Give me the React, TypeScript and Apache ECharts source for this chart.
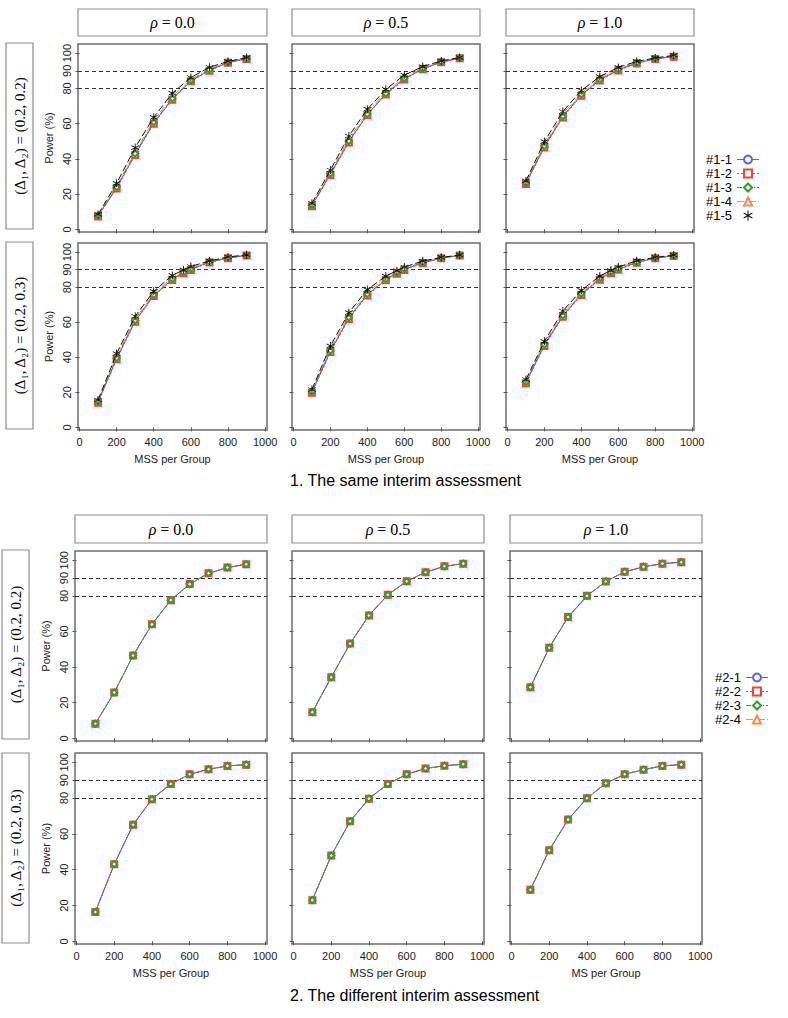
import React, { useEffect, useRef } from 'react';
import * as echarts from 'echarts';

// ---------- data ----------
const XS9 = [100, 200, 300, 400, 500, 600, 700, 800, 900];
const XS10 = [100, 200, 300, 400, 500, 560, 600, 700, 800, 900];
const X_TICKS = [0, 200, 400, 600, 800, 1000];
const Y_TICKS = [0, 20, 40, 60, 80, 90, 100];
const REF_LINES = [80, 90];

const COL_LABELS = ['0.0', '0.5', '1.0'];
const ROW_LABELS = ['(0.2, 0.2)', '(0.2, 0.3)'];
const TITLES = ['1. The same interim assessment', '2. The different interim assessment'];
const X_NAMES_P1 = ['MSS per Group', 'MSS per Group', 'MSS per Group'];
const X_NAMES_P2 = ['MSS per Group', 'MSS per Group', 'MS per Group'];
const NAMES_P1 = ['#1-1', '#1-2', '#1-3', '#1-4', '#1-5'];
const NAMES_P2 = ['#2-1', '#2-2', '#2-3', '#2-4'];

// Panel 1, row 1 (Δ = (0.2,0.2))
const p1r1c1_1 = [7.6, 23.6, 42.6, 60.4, 74.0, 84.2, 90.3, 94.7, 96.8];
const p1r1c1_2 = [7.3, 23.2, 42.2, 60.0, 73.6, 84.0, 90.0, 94.5, 96.7];
const p1r1c1_3 = [7.7, 23.9, 43.0, 60.8, 74.3, 84.5, 90.5, 94.8, 96.9];
const p1r1c1_4 = [8.0, 24.6, 44.0, 61.8, 75.4, 85.2, 91.0, 95.0, 97.1];
const p1r1c1_5 = [8.5, 26.1, 46.4, 63.6, 77.3, 86.2, 92.0, 95.3, 97.5];

const p1r1c2_1 = [13.4, 31.4, 49.8, 65.2, 76.9, 85.4, 91.1, 94.9, 97.2];
const p1r1c2_2 = [13.1, 30.9, 49.3, 64.8, 76.5, 85.1, 90.9, 94.8, 97.1];
const p1r1c2_3 = [13.5, 31.6, 50.0, 65.4, 77.1, 85.6, 91.2, 95.0, 97.2];
const p1r1c2_4 = [13.9, 32.4, 51.2, 66.5, 78.0, 86.3, 91.7, 95.2, 97.3];
const p1r1c2_5 = [14.8, 33.7, 53.0, 68.2, 79.5, 87.5, 92.4, 95.6, 97.5];

const p1r1c3_1 = [26.1, 47.0, 64.0, 76.3, 84.8, 90.5, 94.3, 96.8, 98.1];
const p1r1c3_2 = [25.7, 46.5, 63.5, 75.9, 84.5, 90.2, 94.1, 96.7, 98.0];
const p1r1c3_3 = [26.2, 47.2, 64.2, 76.5, 85.0, 90.6, 94.4, 96.9, 98.2];
const p1r1c3_4 = [26.7, 48.2, 65.3, 77.4, 85.7, 91.1, 94.7, 97.0, 98.3];
const p1r1c3_5 = [27.5, 49.8, 66.9, 78.8, 86.7, 91.9, 95.3, 97.3, 98.7];

// Panel 1, row 2 (Δ = (0.2,0.3))
const p1r2c1_1 = [14.4, 39.3, 60.7, 75.3, 84.4, 88.2, 90.1, 94.3, 96.6, 98.1];
const p1r2c1_2 = [14.0, 38.8, 60.2, 74.9, 84.1, 87.9, 89.8, 94.1, 96.5, 98.0];
const p1r2c1_3 = [14.6, 39.6, 61.0, 75.6, 84.7, 88.4, 90.3, 94.4, 96.7, 98.1];
const p1r2c1_4 = [15.0, 40.6, 62.0, 76.4, 85.5, 89.0, 90.9, 94.6, 96.9, 98.3];
const p1r2c1_5 = [15.6, 42.1, 63.4, 77.6, 86.7, 89.9, 91.8, 95.0, 97.2, 98.5];

const p1r2c2_1 = [20.1, 43.5, 62.4, 75.7, 84.3, 88.0, 90.1, 93.9, 96.6, 98.1];
const p1r2c2_2 = [19.7, 43.0, 61.9, 75.3, 84.0, 87.7, 89.8, 93.7, 96.5, 98.0];
const p1r2c2_3 = [20.3, 43.8, 62.7, 76.0, 84.6, 88.2, 90.3, 94.0, 96.7, 98.1];
const p1r2c2_4 = [20.8, 45.0, 63.9, 77.1, 85.3, 88.7, 90.8, 94.4, 96.8, 98.2];
const p1r2c2_5 = [21.6, 46.5, 65.5, 78.6, 86.3, 89.4, 91.5, 94.9, 97.0, 98.3];

const p1r2c3_1 = [25.6, 46.9, 63.6, 75.9, 84.6, 88.2, 90.3, 94.1, 96.6, 97.9];
const p1r2c3_2 = [25.2, 46.4, 63.1, 75.5, 84.3, 87.9, 90.0, 93.9, 96.5, 97.8];
const p1r2c3_3 = [25.8, 47.2, 63.9, 76.2, 84.8, 88.4, 90.5, 94.2, 96.7, 98.0];
const p1r2c3_4 = [26.4, 48.0, 65.0, 77.0, 85.4, 88.9, 90.9, 94.6, 96.8, 98.1];
const p1r2c3_5 = [27.3, 49.1, 66.4, 78.2, 86.3, 89.6, 91.5, 95.1, 97.0, 98.3];

// Panel 2 (all four designs coincide)
const p2r1c1 = [8.2, 25.7, 46.5, 64.0, 77.6, 86.6, 92.7, 95.9, 97.8];
const p2r1c2 = [14.7, 34.3, 53.2, 69.0, 80.6, 88.2, 93.3, 96.6, 98.1];
const p2r1c3 = [28.7, 50.9, 68.1, 80.0, 88.1, 93.5, 96.3, 98.1, 98.9];
const p2r2c1 = [16.4, 43.1, 65.1, 79.4, 87.9, 93.3, 96.1, 98.0, 98.7];
const p2r2c2 = [23.0, 47.9, 67.1, 79.7, 87.9, 93.3, 96.5, 98.1, 98.9];
const p2r2c3 = [28.8, 50.9, 68.0, 79.9, 88.3, 93.3, 95.9, 98.0, 98.7];

const P1_DATA = [
  [p1r1c1_1, p1r1c1_2, p1r1c1_3, p1r1c1_4, p1r1c1_5],
  [p1r1c2_1, p1r1c2_2, p1r1c2_3, p1r1c2_4, p1r1c2_5],
  [p1r1c3_1, p1r1c3_2, p1r1c3_3, p1r1c3_4, p1r1c3_5],
  [p1r2c1_1, p1r2c1_2, p1r2c1_3, p1r2c1_4, p1r2c1_5],
  [p1r2c2_1, p1r2c2_2, p1r2c2_3, p1r2c2_4, p1r2c2_5],
  [p1r2c3_1, p1r2c3_2, p1r2c3_3, p1r2c3_4, p1r2c3_5],
];
const P2_DATA = [p2r1c1, p2r1c2, p2r1c3, p2r2c1, p2r2c2, p2r2c3];

// ---------- styles / layout ----------
const SANS = "'Liberation Sans', Arial, Helvetica, sans-serif";
const SERIF = "'Liberation Serif', 'DejaVu Serif', serif";
const ASTERISK =
  'path://M4.5 0H5.5V10H4.5Z M0.92 2.07L9.58 7.07L9.08 7.93L0.42 2.93Z M0.42 7.07L9.08 2.07L9.58 2.93L0.92 7.93Z';

// z: drawing order within a panel (red squares and green diamonds on top, as in the original)
const STYLES = [
  { color: '#5c5cff', dash: 'solid', symbol: 'emptyCircle', size: 5, z: 4 },
  { color: '#ff3b3b', dash: [2, 2], symbol: 'emptyRect', size: 6, z: 5 },
  { color: '#2e9e2e', dash: [5, 2, 1, 2], symbol: 'emptyDiamond', size: 6, z: 6 },
  { color: '#ff8a45', dash: [7, 2, 1, 2], symbol: 'emptyTriangle', size: 5, z: 3 },
  { color: '#111111', dash: [7, 3], symbol: ASTERISK, size: 8, z: 7 },
];

const X_MIN = -8, X_MAX = 1010, Y_MIN = -1.5, Y_MAX = 105.2;

const PANELS = [
  {
    colX: [[78, 267], [292, 480], [506, 694]],
    rowY: [[44, 232], [243, 430]],
    stripY: [9, 36],
    rowStripX: [6, 33],
    rowStripY: [[43, 229], [242, 429]],
    titleY: 480,
    legend: { left: 706, top: 153 },
  },
  {
    colX: [[75, 267], [292, 484], [510, 702]],
    rowY: [[551, 741], [753, 944]],
    stripY: [515, 543],
    rowStripX: [2, 29],
    rowStripY: [[550, 739], [753, 943]],
    titleY: 995,
    legend: { left: 715, top: 671 },
  },
];

function buildOption() {
  const grid: any[] = [];
  const xAxis: any[] = [];
  const yAxis: any[] = [];
  const series: any[] = [];
  const graphic: any[] = [];
  let g = 0;

  PANELS.forEach((P, pi) => {
    P.colX.forEach(([x0, x1], c) => {
      graphic.push({
        type: 'rect',
        shape: { x: x0, y: P.stripY[0], width: x1 - x0, height: P.stripY[1] - P.stripY[0] },
        style: { fill: '#fff', stroke: '#8f8f8f', lineWidth: 1.2 },
      });
      graphic.push({
        type: 'text',
        x: (x0 + x1) / 2,
        y: (P.stripY[0] + P.stripY[1]) / 2,
        style: {
          text: '{i|ρ}{n| = ' + COL_LABELS[c] + '}',
          rich: {
            i: { fontStyle: 'italic', fontSize: 16, fontFamily: SERIF, fill: '#000' },
            n: { fontSize: 16, fontFamily: SERIF, fill: '#000' },
          },
          align: 'center',
          verticalAlign: 'middle',
          textAlign: 'center',
          textVerticalAlign: 'middle',
        },
      });
    });
    P.rowStripY.forEach(([y0, y1], r) => {
      const [x0, x1] = P.rowStripX;
      graphic.push({
        type: 'rect',
        shape: { x: x0, y: y0, width: x1 - x0, height: y1 - y0 },
        style: { fill: '#fff', stroke: '#8f8f8f', lineWidth: 1.2 },
      });
      graphic.push({
        type: 'text',
        x: (x0 + x1) / 2,
        y: (y0 + y1) / 2,
        rotation: Math.PI / 2,
        style: {
          text: '(Δ₁, Δ₂) = ' + ROW_LABELS[r],
          font: '15px ' + SERIF,
          fill: '#000',
          align: 'center',
          verticalAlign: 'middle',
          textAlign: 'center',
          textVerticalAlign: 'middle',
        },
      });
    });
    graphic.push({
      type: 'text',
      x: 290,
      y: P.titleY,
      style: {
        text: TITLES[pi],
        font: '16px ' + SANS,
        fill: '#000',
        align: 'left',
        verticalAlign: 'middle',
        textAlign: 'left',
        textVerticalAlign: 'middle',
      },
    });

    for (let r = 0; r < 2; r++) {
      for (let c = 0; c < 3; c++) {
        const [x0, x1] = P.colX[c];
        const [y0, y1] = P.rowY[r];
        const bottom = r === 1;
        const leftCol = c === 0;
        grid.push({
          left: x0, top: y0, width: x1 - x0, height: y1 - y0,
          show: true, borderColor: '#6e6e6e', borderWidth: 1.5,
          backgroundColor: 'rgba(0,0,0,0)',
        });
        xAxis.push({
          type: 'value', gridIndex: g, min: X_MIN, max: X_MAX,
          axisLine: { show: false },
          splitLine: { show: false },
          axisTick: { show: true, customValues: X_TICKS, length: 4, lineStyle: { color: '#555', width: 1 } },
          axisLabel: {
            show: bottom, customValues: X_TICKS, margin: 6,
            fontSize: 11, fontFamily: SANS, color: '#222',
            formatter: (v: number) => String(v),
          },
          name: bottom ? (pi === 0 ? X_NAMES_P1[c] : X_NAMES_P2[c]) : '',
          nameLocation: 'middle', nameGap: 23,
          nameTextStyle: { fontSize: 11, fontFamily: SANS, color: '#222' },
        });
        yAxis.push({
          type: 'value', gridIndex: g, min: Y_MIN, max: Y_MAX,
          axisLine: { show: false },
          splitLine: { show: false },
          axisTick: { show: true, customValues: Y_TICKS, length: 4, lineStyle: { color: '#555', width: 1 } },
          axisLabel: {
            show: leftCol, customValues: Y_TICKS, rotate: 90, margin: 6,
            fontSize: 11, fontFamily: SANS, color: '#222',
            formatter: (v: number) => String(v),
          },
          name: leftCol ? 'Power (%)' : '',
          nameLocation: 'middle', nameGap: 24,
          nameTextStyle: { fontSize: 11, fontFamily: SANS, color: '#222' },
        });

        const idx = r * 3 + c;
        const xs = pi === 0 ? (r === 0 ? XS9 : XS10) : XS9;
        const names = pi === 0 ? NAMES_P1 : NAMES_P2;
        names.forEach((nm, si) => {
          const ys = pi === 0 ? P1_DATA[idx][si] : P2_DATA[idx];
          const st = STYLES[si];
          const s: any = {
            type: 'line',
            name: nm,
            xAxisIndex: g,
            yAxisIndex: g,
            data: xs.map((x, i) => [x, ys[i]]),
            symbol: st.symbol,
            symbolSize: st.size,
            showAllSymbol: true,
            lineStyle: { color: st.color, width: 1, type: st.dash },
            itemStyle: { color: st.color, borderWidth: si === 4 ? 0 : 1 },
            emphasis: { disabled: true },
            z: st.z,
          };
          if (si === 0) {
            s.markLine = {
              silent: true,
              symbol: 'none',
              label: { show: false },
              lineStyle: { color: '#333', type: [4, 3], width: 1 },
              data: REF_LINES.map((v) => ({ yAxis: v })),
              z: 2,
            };
          }
          series.push(s);
        });
        g++;
      }
    }
  });

  const legendBase = {
    orient: 'vertical',
    align: 'right',
    itemWidth: 22,
    itemHeight: 10,
    itemGap: 1,
    selectedMode: false,
    padding: 0,
    lineStyle: { width: 1 },
    itemStyle: { borderWidth: 1 },
    textStyle: { fontSize: 13, fontFamily: SANS, color: '#000' },
  };

  return {
    animation: false,
    backgroundColor: '#fff',
    textStyle: { fontFamily: SANS },
    grid,
    xAxis,
    yAxis,
    series,
    graphic,
    legend: [
      {
        ...legendBase,
        left: PANELS[0].legend.left,
        top: PANELS[0].legend.top,
        data: NAMES_P1.map((n, i) =>
          i === 4 ? { name: n, icon: ASTERISK, itemStyle: { borderWidth: 0 } } : { name: n }
        ),
      },
      {
        ...legendBase,
        left: PANELS[1].legend.left,
        top: PANELS[1].legend.top,
        data: NAMES_P2.map((n) => ({ name: n })),
      },
    ],
  };
}

export default function App() {
  const ref = useRef<HTMLDivElement>(null);
  useEffect(() => {
    const chart = echarts.init(ref.current as HTMLDivElement, null, { renderer: 'svg' });
    chart.setOption(buildOption() as any);
    return () => chart.dispose();
  }, []);
  return (
    <div
      ref={ref}
      style={{ position: 'absolute', left: 0, top: 0, width: 788, height: 1018, background: '#fff' }}
    />
  );
}
